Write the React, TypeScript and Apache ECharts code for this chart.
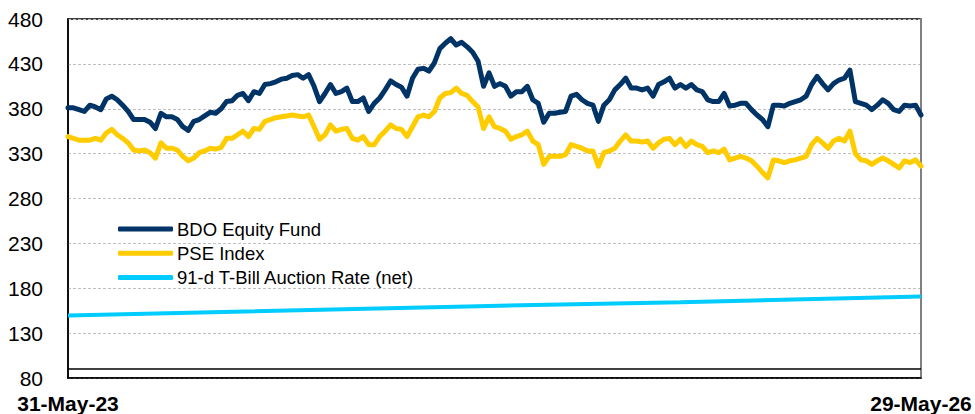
import React, { useEffect, useRef } from "react";
import * as echarts from "echarts";

// ---- Data (weekly readings, 31-May-23 .. 29-May-26) ----
const seriesNames = ["BDO Equity Fund", "PSE Index", "91-d T-Bill Auction Rate (net)"];
const tickLabels = ["31-May-23", "29-May-26"];

const bdoFund = [
  381, 381, 379, 377, 384, 382, 379, 391, 394, 390,
  384, 377, 368, 368, 368, 365, 358, 375, 371, 371,
  368, 360, 356, 366, 368, 372, 376, 375, 380, 388,
  389, 395, 397, 389, 399, 397, 407, 408, 410, 413,
  414, 417, 418, 414, 418, 405, 388, 397, 407, 397,
  399, 403, 388, 388, 392, 377, 386, 392, 401, 411,
  407, 404, 394, 414, 424, 425, 422, 431, 447, 453,
  458, 451, 454, 449, 443, 433, 405, 420, 405, 408,
  405, 394, 399, 399, 405, 390, 386, 365, 375, 375,
  376, 377, 394, 396, 390, 386, 384, 366, 384, 390,
  401, 407, 414, 403, 403, 401, 403, 394, 407, 410,
  414, 403, 407, 403, 407, 401, 399, 390, 388, 388,
  397, 383, 384, 386, 386, 379, 373, 368, 360, 384,
  384, 383, 386, 388, 390, 394, 407, 416, 408, 401,
  408, 412, 414, 423, 388, 386, 384, 379, 384, 390,
  386, 379, 377, 384, 383, 384, 373,
];

const pseIndex = [
  349, 347, 345, 345, 345, 347, 345, 353, 357, 351,
  347, 342, 334, 333, 334, 331, 325, 342, 336, 336,
  334, 327, 322, 325, 331, 333, 336, 335, 337, 347,
  347, 351, 355, 349, 358, 357, 366, 368, 370, 371,
  372, 373, 372, 371, 373, 360, 346, 351, 362, 355,
  357, 358, 347, 345, 349, 340, 340, 349, 355, 362,
  358, 357, 349, 360, 371, 373, 371, 377, 392, 397,
  398, 403, 397, 395, 388, 382, 358, 371, 360, 358,
  355, 346, 349, 351, 355, 344, 340, 318, 327, 327,
  327, 329, 340, 338, 336, 333, 333, 316, 331, 333,
  336, 344, 351, 344, 344, 343, 344, 336, 342, 346,
  347, 340, 346, 338, 344, 340, 338, 331, 333, 331,
  335, 323, 325, 327, 325, 322, 316, 309, 303, 323,
  322, 320, 322, 323, 325, 327, 340, 347, 342, 336,
  344, 347, 344, 355, 330, 323, 322, 318, 322, 325,
  322, 318, 314, 322, 320, 323, 316,
];

// [week index, value] readings of the T-bill line
const tBillPoints = [
  [0, 149.5],
  [75, 160],
  [112, 164.5],
  [156, 170.7],
];

const MONTHS = ["Jan", "Feb", "Mar", "Apr", "May", "Jun", "Jul", "Aug", "Sep", "Oct", "Nov", "Dec"];
const N = bdoFund.length;
const startMs = Date.UTC(2023, 4, 31);
const categories = bdoFund.map((_, i) => {
  if (i === 0) return tickLabels[0];
  if (i === N - 1) return tickLabels[1];
  const d = new Date(startMs + i * 7 * 86400000);
  return `${String(d.getUTCDate()).padStart(2, "0")}-${MONTHS[d.getUTCMonth()]}-${String(d.getUTCFullYear()).slice(2)}`;
});

const tBill: (number | null)[] = bdoFund.map(() => null);
tBillPoints.forEach(([i, v]) => {
  tBill[i] = v;
});

const FONT = 'Arial, "Liberation Sans", sans-serif';

export default function App() {
  const ref = useRef<HTMLDivElement>(null);
  useEffect(() => {
    document.body.style.margin = "0";
    const chart = echarts.init(ref.current!, null, { renderer: "svg" });
    chart.setOption({
      animation: false,
      backgroundColor: "#ffffff",
      grid: {
        left: 68,
        right: 54,
        top: 19,
        bottom: 35,
        show: true,
        borderColor: "#000000",
        borderWidth: 1.5,
      },
      legend: {
        orient: "vertical",
        left: 118,
        top: 219,
        padding: 0,
        itemWidth: 55,
        itemHeight: 5,
        itemGap: 4.3,
        icon: "roundRect",
        textStyle: { fontFamily: FONT, fontSize: 18.5, color: "#000000", lineHeight: 20, padding: [0, 0, 0, -1] },
        data: seriesNames,
      },
      xAxis: {
        type: "category",
        data: categories,
        boundaryGap: false,
        axisLine: { show: true, lineStyle: { color: "#000000", width: 1.5 } },
        axisTick: { show: false },
        axisLabel: {
          interval: (idx: number) => idx === 0 || idx === N - 1,
          showMinLabel: true,
          showMaxLabel: true,
          fontFamily: FONT,
          fontSize: 21,
          fontWeight: "bold",
          color: "#000000",
          margin: 15,
        },
        splitLine: { show: false },
      },
      yAxis: [
        {
          type: "value",
          min: 80,
          max: 480,
          interval: 50,
          axisLine: { show: true, lineStyle: { color: "#000000", width: 1.5 } },
          axisTick: { show: false },
          axisLabel: { fontFamily: FONT, fontSize: 21, color: "#000000", margin: 25 },
          splitLine: { show: true, lineStyle: { color: "#c0c0c0", width: 1, type: [3, 2] } },
        },
        {
          type: "value",
          min: 80,
          max: 480,
          interval: 50,
          position: "right",
          axisLine: { show: true, lineStyle: { color: "#808080", width: 2 } },
          axisTick: { show: false },
          axisLabel: { show: false },
          splitLine: { show: false },
        },
      ],
      series: [
        {
          name: seriesNames[0],
          type: "line",
          data: bdoFund,
          showSymbol: false,
          symbol: "none",
          z: 4,
          lineStyle: { color: "#003366", width: 5, join: "round", cap: "round" },
          itemStyle: { color: "#003366" },
        },
        {
          name: seriesNames[1],
          type: "line",
          data: pseIndex,
          showSymbol: false,
          symbol: "none",
          z: 3,
          lineStyle: { color: "#FFCC00", width: 5, join: "round", cap: "round" },
          itemStyle: { color: "#FFCC00" },
        },
        {
          name: seriesNames[2],
          type: "line",
          data: tBill,
          connectNulls: true,
          showSymbol: false,
          symbol: "none",
          z: 2,
          lineStyle: { color: "#00CCFF", width: 4 },
          itemStyle: { color: "#00CCFF" },
          markLine: {
            silent: true,
            symbol: "none",
            label: { show: false },
            lineStyle: { color: "#000000", width: 1.5, type: "solid" },
            data: [{ yAxis: 90 }],
          },
        },
      ],
    });
    return () => chart.dispose();
  }, []);
  return <div ref={ref} style={{ width: 975, height: 414 }} />;
}
